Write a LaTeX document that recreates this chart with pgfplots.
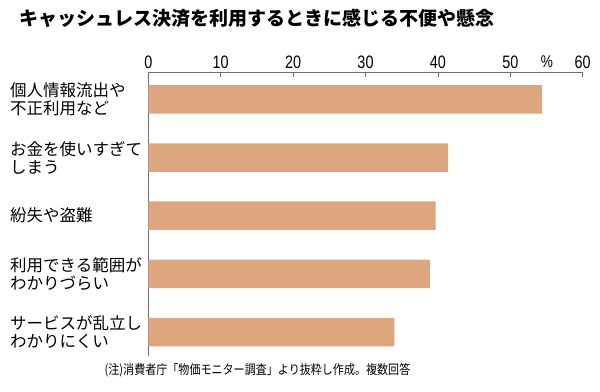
\documentclass[border=0pt]{standalone}
\usepackage{fontspec}
\usepackage{pgfplots}
\pgfplotsset{compat=1.18}
\newfontfamily\cjk{Noto Sans CJK JP}
\newfontfamily\cjkn[FakeStretch=0.85]{Noto Sans CJK JP}
\newfontfamily\numfont[FakeStretch=0.8]{Liberation Sans}
\definecolor{barc}{RGB}{221,166,126}
\definecolor{axc}{RGB}{110,110,110}
\begin{document}
\begin{tikzpicture}
\path[use as bounding box] (0,0) rectangle (600bp,392bp);
\begin{axis}[
  at={(148.3bp,36bp)}, anchor=south west,
  scale only axis, width=434.4bp, height=284bp,
  xmin=0, xmax=60, ymin=-0.41, ymax=4.47,
  xbar, bar width=28.5bp, bar shift=0pt,
  axis x line=top, axis y line=left,
  axis line style={-, axc, line width=0.8bp},
  xtick={0,10,...,60}, tick align=inside, major tick length=5bp,
  x tick style={axc, line width=0.8bp},
  /pgf/number format/assume math mode=true,
  xticklabel style={font=\numfont\fontsize{18bp}{18bp}\selectfont, text=black},
  ytick={0,1,2,3,4},
  yticklabels={{サービスが乱立し\\わかりにくい},{利用できる範囲が\\わかりづらい},{紛失や盗難},{お金を使いすぎて\\しまう},{個人情報流出や\\不正利用など}},
  y tick style={draw=none},
  yticklabel style={font=\cjk\fontsize{16.5bp}{18bp}\selectfont, text width=125bp, align=left, inner sep=0pt, anchor=east, xshift=-13bp},
  clip=false,
]
\addplot[fill=barc, draw=none] coordinates {(54.4,4) (41.4,3) (39.7,2) (38.9,1) (34.0,0)};
\end{axis}
\node[font=\cjk\bfseries\fontsize{19bp}{19bp}\selectfont] at (257bp,374bp) {キャッシュレス決済を利用するときに感じる不便や懸念};
\node[font=\numfont\fontsize{17bp}{17bp}\selectfont] at (547bp,330bp) {\%};
\node[font=\cjkn\fontsize{13bp}{13bp}\selectfont] at (257.5bp,22bp) {(注)消費者庁「物価モニター調査」より抜粋し作成。複数回答};
\end{tikzpicture}
\end{document}
